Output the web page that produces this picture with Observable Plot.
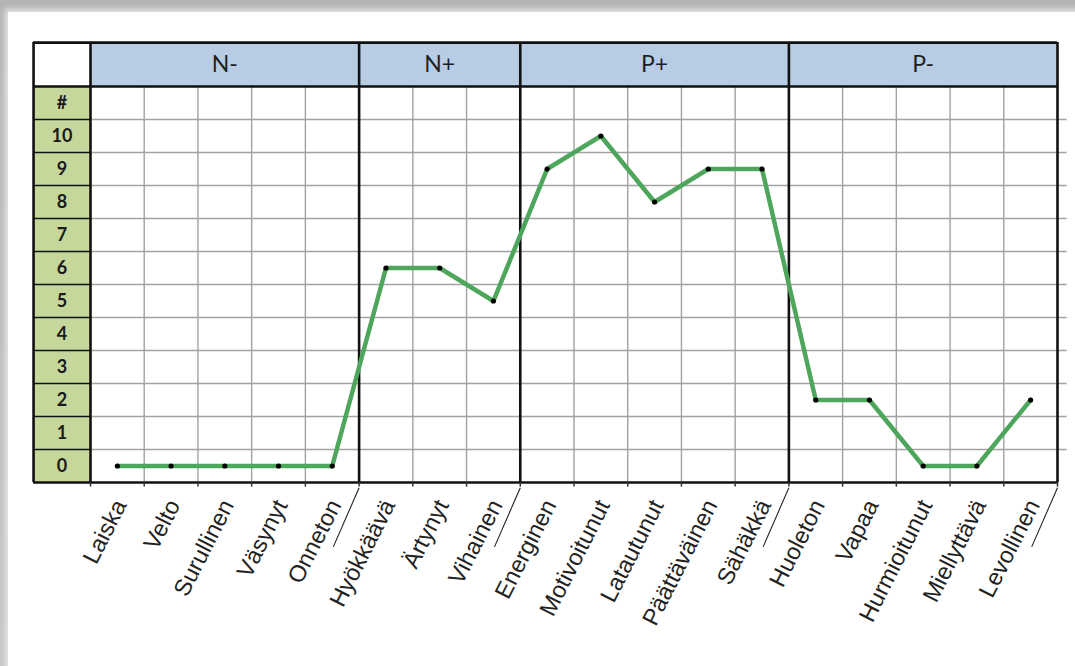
<!DOCTYPE html>
<html>
<head>
<meta charset="utf-8">
<script src="https://cdn.jsdelivr.net/npm/d3@7"></script>
<script src="https://cdn.jsdelivr.net/npm/@observablehq/plot@0.6"></script>
<style>
  html, body { margin: 0; padding: 0; }
  body { width: 1075px; height: 666px; overflow: hidden; position: relative;
         background: linear-gradient(#b4b4b4, #c4c4c4); }
  #card { position: absolute; left: 8px; top: 12px; width: 1100px; height: 700px;
          background: #ffffff; box-shadow: 0 0 6px 3px #e6e6e6; }
  #chart { position: absolute; left: 0; top: 0; }
  #chart svg { background: transparent; }
</style>
</head>
<body>
<div id="card"></div>
<div id="chart"></div>
<script>
// ---- data ----
const emotions = ["Laiska","Velto","Surullinen","Väsynyt","Onneton",
  "Hyökkäävä","Ärtynyt","Vihainen",
  "Energinen","Motivoitunut","Latautunut","Päättäväinen","Sähäkkä",
  "Huoleton","Vapaa","Hurmioitunut","Miellyttävä","Levollinen"];
const values = [0,0,0,0,0, 6,6,5, 9,10,8,9,9, 2,2,0,0,2];
const groupNames = ["N-","N+","P+","P-"];
const groupSizes = [5,3,5,5];
const rowLabels = ["#","10","9","8","7","6","5","4","3","2","1","0"];
const rowValues = [11,10,9,8,7,6,5,4,3,2,1,0];

// derived tables
const pts = values.map((v, i) => ({i, name: emotions[i], v}));
let acc = 0;
const groups = groupNames.map((g, k) => { const s = acc; acc += groupSizes[k]; return {g, start: s, end: acc}; });
const bounds = [0, ...groups.map(d => d.end)];          // 0,5,8,13,18
const seps = groups.map(d => d.end);                    // 5,8,13,18
const inner = d3.range(1, emotions.length).filter(b => !bounds.includes(b));
const LC = -1.06;     // left edge of row-label column (x units)
const HT = 12.83;     // top edge of header band (y units)
const rows = rowLabels.map((t, k) => ({t, v: rowValues[k]}));

const chart = Plot.plot({
  width: 1075, height: 666,
  marginTop: 0, marginRight: 0, marginBottom: 0, marginLeft: 0,
  style: {background: "transparent", overflow: "visible"},
  x: {type: "linear", domain: [0, 18], range: [90, 1057], axis: null},
  y: {type: "linear", domain: [0, 10], range: [465.5, 135.5], axis: null},
  marks: [
    // fills
    Plot.rect(groups, {x1: "start", x2: "end", y1: 11.5, y2: HT, fill: "#b8cce4"}),
    Plot.rect([0], {x1: LC, x2: 0, y1: -0.5, y2: 11.5, fill: "#c6d79c"}),
    // light grid
    Plot.ruleY(d3.range(0.5, 11, 1), {x1: 0, x2: 18.18, stroke: "#a2a2a2", strokeWidth: 1.4}),
    Plot.ruleX(inner, {y1: -0.5, y2: 11.5, stroke: "#a2a2a2", strokeWidth: 1.4}),
    // row label separators
    Plot.ruleY(d3.range(0.5, 11, 1), {x1: LC, x2: 0, stroke: "#111", strokeWidth: 1.6}),
    // heavy borders
    Plot.ruleX(bounds, {y1: -0.5, y2: HT, stroke: "#111", strokeWidth: 2.6}),
    Plot.ruleX([LC], {y1: -0.5, y2: HT, stroke: "#111", strokeWidth: 2.6}),
    Plot.ruleY([-0.5, 11.5, HT], {x1: LC, x2: 18, stroke: "#111", strokeWidth: 2.6}),
    // small ticks under grid
    Plot.ruleX(d3.range(0, 19), {y1: -0.5, y2: -0.64, stroke: "#333", strokeWidth: 1.5}),
    // category group separators
    Plot.link(seps, {x1: d => d, y1: -0.66, x2: d => d - 0.48, y2: -2.45, stroke: "#222", strokeWidth: 1.1}),
    // texts
    Plot.text(groups, {x: d => (d.start + d.end) / 2, y: (11.5 + HT) / 2, text: "g",
      fontSize: 23, fontFamily: "Lato", fill: "#1f1f1f"}),
    Plot.text(rows, {x: LC / 2, y: "v", text: "t", fontSize: 18, fontWeight: "bold",
      fontFamily: "Lato", fill: "#1a1a1a"}),
    Plot.text(pts, {x: d => d.i + 0.5, y: -0.5, text: "name", rotate: -63, textAnchor: "end",
      lineAnchor: "middle", dx: 3, dy: 19, fontSize: 23.5, fontFamily: "Liberation Sans", fill: "#222",
      letterSpacing: -0.6}),
    // data
    Plot.line(pts, {x: d => d.i + 0.5, y: "v", stroke: "#4da65b", strokeWidth: 4.5, strokeLinejoin: "miter"}),
    Plot.dot(pts, {x: d => d.i + 0.5, y: "v", r: 2.6, fill: "#000", stroke: "none"})
  ]
});
document.getElementById("chart").appendChild(chart);
</script>
</body>
</html>
